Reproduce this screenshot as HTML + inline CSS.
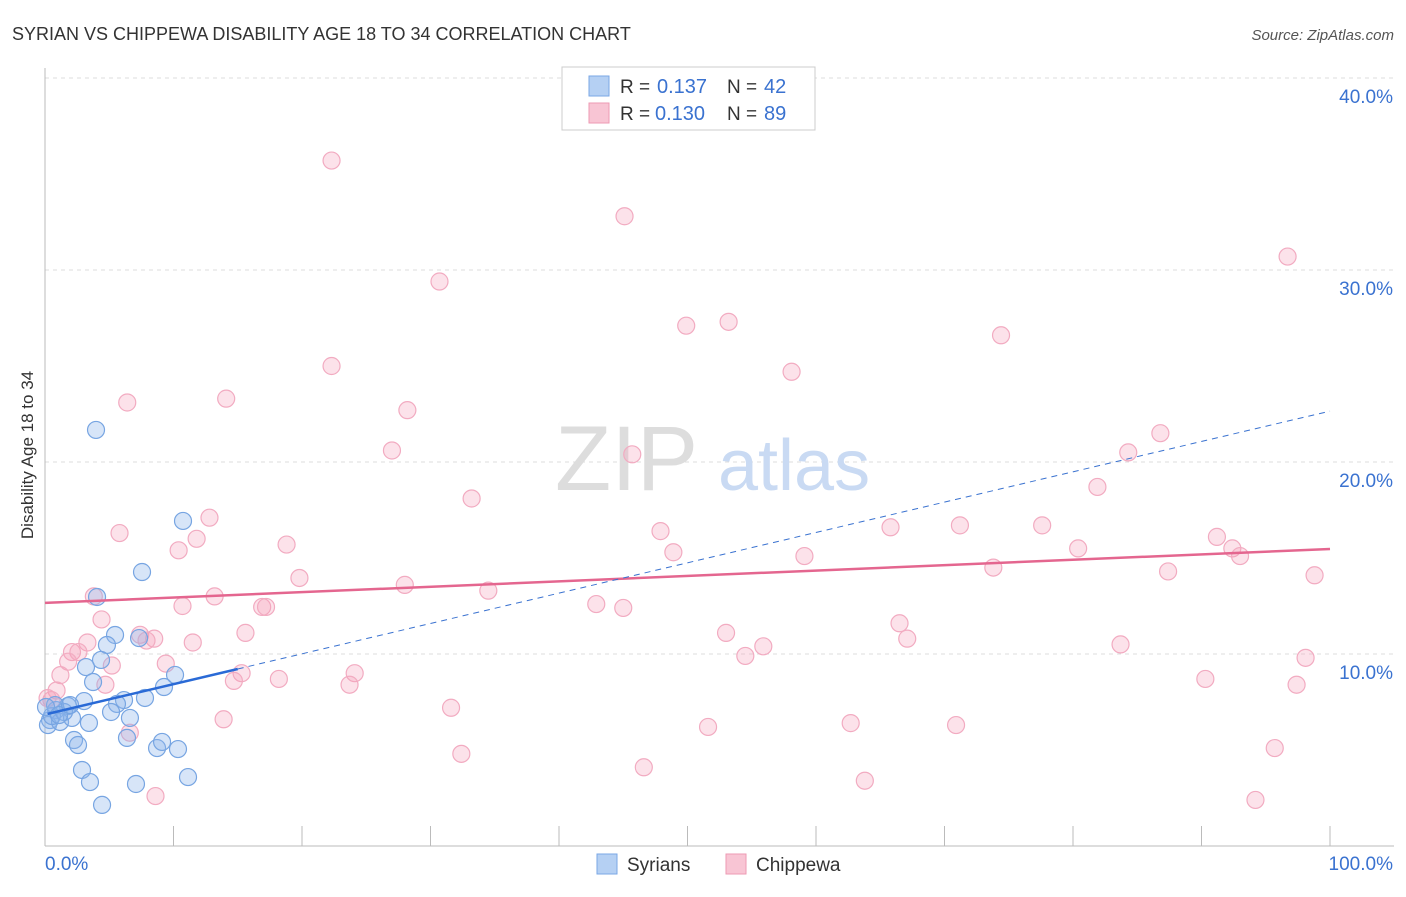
<!DOCTYPE html>
<html><head><meta charset="utf-8"><style>
body{margin:0;background:#fff;font-family:"Liberation Sans",sans-serif;}
svg text{font-family:"Liberation Sans",sans-serif;}
</style></head><body>
<svg width="1406" height="892" xmlns="http://www.w3.org/2000/svg">
<text x="12" y="40" font-size="18" fill="#333">SYRIAN VS CHIPPEWA DISABILITY AGE 18 TO 34 CORRELATION CHART</text>
<text x="1394" y="40" font-size="15" fill="#555" font-style="italic" text-anchor="end">Source: ZipAtlas.com</text>
<g id="grid"></g>
<g><text x="555" y="490" font-size="92" fill="#ddd" font-family="Liberation Serif">ZIP</text><text x="718" y="490" font-size="72" fill="#c9daf3">atlas</text></g>
<g id="axes"></g>
<g id="pts"></g>
<g id="lines"></g>
<text x="33" y="455" font-size="17" fill="#333" text-anchor="middle" transform="rotate(-90 33 455)">Disability Age 18 to 34</text>
<g>
<rect x="562" y="67" width="253" height="63" fill="#fff" stroke="#ccc"/>
<rect x="589" y="76" width="20" height="20" fill="#b5d0f3" stroke="#7aa7e6"/>
<text x="620" y="93" font-size="19" fill="#333">R =</text><text x="657" y="93" font-size="20" fill="#3a72d0">0.137</text>
<text x="727" y="93" font-size="19" fill="#333">N =</text><text x="764" y="93" font-size="20" fill="#3a72d0">42</text>
<rect x="589" y="103" width="20" height="20" fill="#f8c5d4" stroke="#ee9ab3"/>
<text x="620" y="120" font-size="19" fill="#333">R =</text><text x="655" y="120" font-size="20" fill="#3a72d0">0.130</text>
<text x="727" y="120" font-size="19" fill="#333">N =</text><text x="764" y="120" font-size="20" fill="#3a72d0">89</text>
</g>
<g>
<rect x="597" y="854" width="20" height="20" fill="#b5d0f3" stroke="#7aa7e6"/>
<text x="627" y="871" font-size="19" fill="#333">Syrians</text>
<rect x="726" y="854" width="20" height="20" fill="#f8c5d4" stroke="#ee9ab3"/>
<text x="756" y="871" font-size="19" fill="#333">Chippewa</text>
</g>
</svg>
<script>
const yTicks=[10,20,30,40];
const yTickLabels=["10.0%","20.0%","30.0%","40.0%"];
const xTicks=[0,10,20,30,40,50,60,70,80,90,100];
const syrX=[3.97,10.74,7.55,4.05,5.45,4.82,7.32,4.36,3.19,3.74,9.26,10.12,6.15,7.78,5.60,3.04,5.14,1.79,0.86,0.39,0.23,1.17,2.10,3.42,6.61,6.38,2.26,2.57,8.72,9.11,10.35,2.88,3.50,7.08,11.13,4.44,0.54,1.48,0.78,0.08,1.09,1.95];
const syrY=[21.67,16.93,14.27,12.97,10.99,10.47,10.83,9.69,9.32,8.54,8.28,8.91,7.60,7.71,7.40,7.55,6.98,7.29,7.08,6.56,6.30,6.46,6.67,6.41,6.67,5.63,5.52,5.26,5.10,5.42,5.05,3.96,3.33,3.23,3.59,2.14,6.77,6.98,7.34,7.24,6.82,7.34];
const chipX=[22.3,45.1,96.7,30.7,49.9,53.2,74.4,22.3,58.1,14.1,6.4,28.2,27.0,86.8,84.3,45.7,33.2,81.9,12.8,5.8,47.9,11.8,65.8,71.2,77.6,91.2,18.8,80.4,10.4,48.9,59.1,92.4,93.0,73.8,87.4,98.8,19.8,28.0,3.8,34.5,13.2,10.7,16.9,17.2,42.9,45.0,4.4,66.5,7.4,8.5,7.9,15.6,11.5,53.0,67.1,3.3,2.1,2.6,55.9,83.7,54.5,1.8,9.4,5.2,24.1,15.3,1.2,14.7,18.2,23.7,98.1,90.3,97.4,4.7,0.9,0.5,31.6,13.9,62.7,70.9,51.6,6.6,95.7,32.4,46.6,63.8,8.6,94.2,0.2];
const chipY=[35.7,32.8,30.7,29.4,27.1,27.3,26.6,25.0,24.7,23.3,23.1,22.7,20.6,21.5,20.5,20.4,18.1,18.7,17.1,16.3,16.4,16.0,16.6,16.7,16.7,16.1,15.7,15.5,15.4,15.3,15.1,15.5,15.1,14.5,14.3,14.1,13.96,13.6,13.0,13.3,13.0,12.5,12.45,12.45,12.6,12.4,11.8,11.6,11.0,10.8,10.7,11.1,10.6,11.1,10.8,10.6,10.1,10.1,10.4,10.5,9.9,9.6,9.5,9.4,9.0,9.0,8.9,8.6,8.7,8.4,9.8,8.7,8.4,8.4,8.1,7.6,7.2,6.6,6.4,6.3,6.2,5.9,5.1,4.8,4.1,3.4,2.6,2.4,7.7];
const syrLine=[6.85,0.158], chipLine=[12.66,0.0281];
const xs=v=>45+v*12.85, ys=v=>846-v*19.2;
const NS="http://www.w3.org/2000/svg";
function mk(tag,attrs,parent){const e=document.createElementNS(NS,tag);for(const k in attrs)e.setAttribute(k,attrs[k]);parent.appendChild(e);return e;}
const grid=document.getElementById('grid'),axes=document.getElementById('axes'),pts=document.getElementById('pts'),lines=document.getElementById('lines');
yTicks.forEach((t,i)=>{
 const l=mk('line',{x1:45,x2:1394,y1:ys(t),y2:ys(t),stroke:'#ddd','stroke-dasharray':'4 4'},grid);
 
 
 const tx=mk('text',{x:1393,y:ys(t)+25,'font-size':19,fill:'#3a72d0','text-anchor':'end'},axes);
 tx.textContent=yTickLabels[i];
 
 
});
mk('line',{x1:45,x2:45,y1:68,y2:846,stroke:'#bbb'},axes);
mk('line',{x1:45,x2:1394,y1:846,y2:846,stroke:'#bbb'},axes);
xTicks.forEach(t=>{const l=mk('line',{x1:xs(t),x2:xs(t),y1:826,y2:846,stroke:'#bbb'},axes);
 
 });
let a=mk('text',{x:45,y:870,'font-size':19,fill:'#3a72d0'},axes);a.textContent='0.0%';

a=mk('text',{x:1393,y:870,'font-size':19,fill:'#3a72d0','text-anchor':'end'},axes);a.textContent='100.0%';

chipX.forEach((x,i)=>{const c=mk('circle',{cx:xs(x),cy:ys(chipY[i]),r:8.5,fill:'rgba(244,160,185,0.3)',stroke:'#f2abc1','stroke-width':1.2},pts);
 
 });
syrX.forEach((x,i)=>{const c=mk('circle',{cx:xs(x),cy:ys(syrY[i]),r:8.5,fill:'rgba(140,180,235,0.35)',stroke:'#77a5e2','stroke-width':1.2},pts);
 
 });
let l=mk('line',{x1:xs(0),y1:ys(chipLine[0]),x2:xs(100),y2:ys(chipLine[0]+chipLine[1]*100),stroke:'#e4668f','stroke-width':2.5},lines);

l=mk('line',{x1:xs(15),y1:ys(syrLine[0]+syrLine[1]*15),x2:xs(100),y2:ys(syrLine[0]+syrLine[1]*100),stroke:'#3a72d0','stroke-width':1,'stroke-dasharray':'6 5'},lines);

l=mk('line',{x1:xs(0.2),y1:ys(syrLine[0]+syrLine[1]*0.2),x2:xs(15),y2:ys(syrLine[0]+syrLine[1]*15),stroke:'#2a6ad6','stroke-width':2.5},lines);

</script>
</body></html>
